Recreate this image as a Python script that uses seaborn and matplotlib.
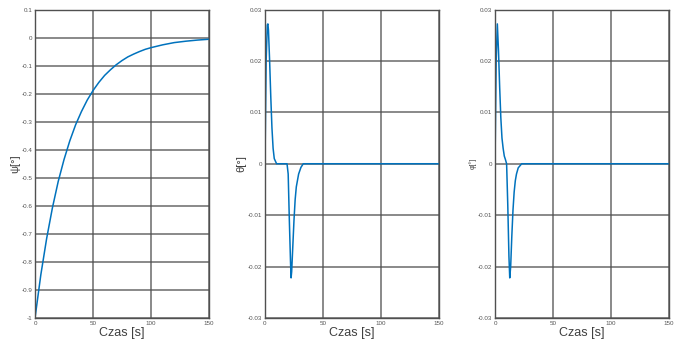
import matplotlib
matplotlib.use('Agg')
import matplotlib.pyplot as plt
import seaborn as sns
import pandas as pd

# Data
T_PSI = [0, 5, 10, 15, 20, 25, 30, 35, 40, 45, 50, 55, 60, 65, 70, 75, 80, 85, 90, 95,
         100, 110, 120, 130, 140, 150]
PSI = [-1, -0.846, -0.717, -0.607, -0.513, -0.435, -0.368, -0.311, -0.264, -0.223, -0.189,
       -0.160, -0.135, -0.115, -0.097, -0.082, -0.069, -0.059, -0.050, -0.042,
       -0.036, -0.026, -0.018, -0.013, -0.009, -0.006]

T_THETA = [0, 1, 2, 2.5, 3, 4, 5, 6, 7, 8, 10, 19, 20, 21, 22, 22.5, 23, 24, 25, 26, 27, 29,
           31, 33, 150]
THETA = [0, 0.02, 0.027, 0.0272, 0.026, 0.020, 0.013, 0.007, 0.003, 0.001, 0, 0, -0.002,
         -0.011, -0.019, -0.0222, -0.021, -0.016, -0.011, -0.007, -0.0045, -0.002,
         -0.0007, 0, 0]

T_PHI = [0, 1, 2, 3, 4, 5, 6, 7, 8, 9, 10, 11, 12, 12.7, 13.5, 14.5, 15.5, 16.5, 17.5,
         18.5, 20, 23, 150]
PHI = [0, 0.02, 0.0272, 0.022, 0.015, 0.009, 0.005, 0.003, 0.0015, 0.0008, 0, -0.008,
       -0.018, -0.0222, -0.020, -0.014, -0.009, -0.0055, -0.0033, -0.002, -0.0008, 0, 0]

X_TICKS = [0, 50, 100, 150]
PSI_TICKS = [-1, -0.9, -0.8, -0.7, -0.6, -0.5, -0.4, -0.3, -0.2, -0.1, 0, 0.1]
SMALL_TICKS = [-0.03, -0.02, -0.01, 0, 0.01, 0.02, 0.03]

LINE_COLOR = '#0072BD'
GRID_COLOR = '#505050'

sns.set_style('white')
plt.rcParams['font.family'] = ['Liberation Sans', 'DejaVu Sans']


def fmt(v):
    if v == 0:
        return '0'
    return f'{v:g}'


def draw(ax, t, y, ylim, yticks, ylabel, ylabel_size):
    df = pd.DataFrame({'t': t, 'y': y})
    sns.lineplot(data=df, x='t', y='y', ax=ax, color=LINE_COLOR, linewidth=1.1)
    ax.set_xlim(0, 150)
    ax.set_ylim(*ylim)
    ax.set_xticks(X_TICKS)
    ax.set_xticklabels([fmt(v) for v in X_TICKS])
    ax.set_yticks(yticks)
    ax.set_yticklabels([fmt(v) for v in yticks])
    ax.tick_params(axis='both', labelsize=4.5, labelcolor='#555555', length=0, pad=2)
    ax.grid(True, color=GRID_COLOR, linewidth=1.1, alpha=0.85)
    for s in ax.spines.values():
        s.set_color('#505050')
        s.set_linewidth(1.0)
    ax.set_xlabel('Czas [s]', fontsize=9, color='#404040', labelpad=1)
    ax.set_ylabel(ylabel, fontsize=ylabel_size, color='#404040', labelpad=1)


fig = plt.figure(figsize=(6.84, 3.47), dpi=100)
bottom, height, width = 0.0836, 0.889, 0.2544
ax1 = fig.add_axes([0.0512, bottom, width, height])
ax2 = fig.add_axes([0.3874, bottom, width, height])
ax3 = fig.add_axes([0.7237, bottom, width, height])

draw(ax1, T_PSI, PSI, (-1, 0.1), PSI_TICKS, 'ψ[°]', 8)
draw(ax2, T_THETA, THETA, (-0.03, 0.03), SMALL_TICKS, 'θ[°]', 8)
draw(ax3, T_PHI, PHI, (-0.03, 0.03), SMALL_TICKS, 'φ[°]', 5)

fig.savefig('out.png', dpi=100)
